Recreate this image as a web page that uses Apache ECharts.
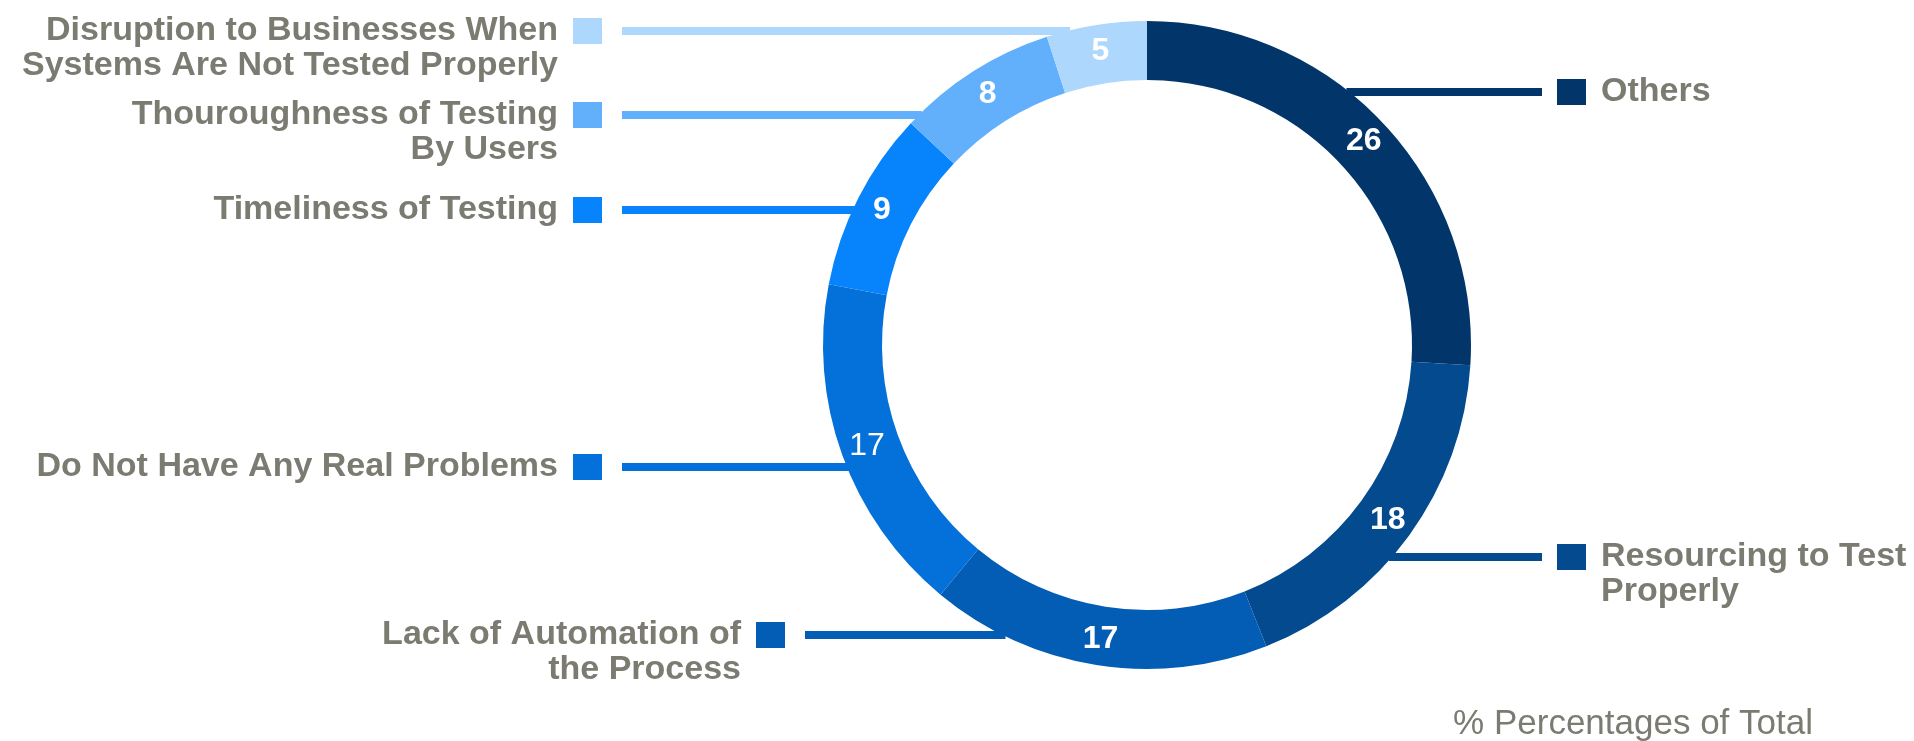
<!DOCTYPE html>
<html style="height: 100%">
<head>
    <meta charset="utf-8">
    <title>Testing problems - share of answers</title>
    <script src="https://cdn.jsdelivr.net/npm/echarts@6/dist/echarts.min.js"></script>
</head>
<body style="margin: 0; height: 100%; background: #fff">
    <div id="main" style="width: 1914px; height: 741px"></div>
    <script>
        // Kategorier och värden (medurs från toppen)
        const categories = [
            'Others',
            'Resourcing to Test\nProperly',
            'Lack of Automation of\nthe Process',
            'Do Not Have Any Real Problems',
            'Timeliness of Testing',
            'Thouroughness of Testing\nBy Users',
            'Disruption to Businesses When\nSystems Are Not Tested Properly'
        ];
        const values = [26, 18, 17, 17, 9, 8, 5];
        const footnote = '% Percentages of Total';

        const colors = ['#02366a', '#044a8f', '#045db4', '#0470d9', '#0784fc', '#62b0fc', '#aed7fd'];
        const textGray = '#7b7b72';
        const font = "'Liberation Sans', Arial, Helvetica, sans-serif";

        // Ringens geometri
        const CX = 1147, CY = 345, R_OUT = 324, R_IN = 265;

        // Var etiketterna sitter: sida, y för linjen, x för rutans yttre kant
        const labelSpots = [
            { side: 'right', y: 92, x: 1557 },
            { side: 'right', y: 557, x: 1557 },
            { side: 'left', y: 635, x: 785 },
            { side: 'left', y: 467, x: 602 },
            { side: 'left', y: 210, x: 602 },
            { side: 'left', y: 115, x: 602 },
            { side: 'left', y: 31, x: 602 }
        ];

        function labelText(name, side) {
            return name.split('\n').map((line, i) => {
                if (side === 'left') {
                    return '{t|' + line + '}' + (i === 0 ? '{g| }{sq| }' : '{pad| }');
                }
                return (i === 0 ? '{sq| }{g| }' : '{pad| }') + '{t|' + line + '}';
            }).join('\n');
        }

        function richFor(color) {
            return {
                t: { fontSize: 34, fontWeight: 'bold', fontFamily: font, color: textGray, lineHeight: 35 },
                g: { width: 15 },
                sq: { width: 29, height: 26, backgroundColor: color },
                pad: { width: 44 }
            };
        }

        const chart = echarts.init(document.getElementById('main'));

        const ringData = values.map((v, i) => ({
            name: categories[i],
            value: v,
            itemStyle: { color: colors[i] },
            label: {
                formatter: labelText(categories[i], labelSpots[i].side),
                rich: richFor(colors[i])
            },
            labelLine: { lineStyle: { color: colors[i] } }
        }));

        const valueData = values.map((v, i) => ({
            name: categories[i],
            value: v,
            // den vänstra 17:an är inte fet i originalet
            label: i === 3 ? { fontWeight: 'normal' } : {}
        }));

        chart.setOption({
            animation: false,
            title: {
                text: footnote,
                right: 101,
                top: 707,
                padding: 0,
                textStyle: { fontSize: 35, fontWeight: 'normal', fontFamily: font, color: textGray }
            },
            series: [
                {
                    name: 'ring',
                    type: 'pie',
                    center: [CX, CY],
                    radius: [R_IN, R_OUT],
                    startAngle: 90,
                    clockwise: true,
                    avoidLabelOverlap: false,
                    silent: true,
                    itemStyle: { borderWidth: 0 },
                    label: {
                        show: true,
                        position: 'outside',
                        fontFamily: font
                    },
                    labelLine: {
                        show: true,
                        smooth: false,
                        lineStyle: { width: 8, cap: 'butt' }
                    },
                    labelLayout: function (params) {
                        const spot = labelSpots[params.dataIndex];
                        const dy = spot.y - CY;
                        const dx = Math.sqrt(R_OUT * R_OUT - dy * dy) - 3;
                        const left = spot.side === 'left';
                        const ringX = left ? CX - dx : CX + dx;
                        const endX = left ? spot.x + 20 : spot.x - 15;
                        return {
                            x: spot.x,
                            y: spot.y - 17.5,
                            align: left ? 'right' : 'left',
                            verticalAlign: 'top',
                            labelLinePoints: [[ringX, spot.y], [ringX, spot.y], [endX, spot.y]]
                        };
                    },
                    data: ringData
                },
                {
                    name: 'values',
                    type: 'pie',
                    center: [CX, CY],
                    radius: [R_IN, R_OUT],
                    startAngle: 90,
                    clockwise: true,
                    silent: true,
                    z: 3,
                    itemStyle: { color: 'rgba(0,0,0,0)', borderWidth: 0 },
                    label: {
                        show: true,
                        position: 'inside',
                        formatter: '{c}',
                        color: '#ffffff',
                        fontSize: 32,
                        fontWeight: 'bold',
                        fontFamily: font
                    },
                    labelLine: { show: false },
                    data: valueData
                }
            ]
        });
    </script>
</body>
</html>
